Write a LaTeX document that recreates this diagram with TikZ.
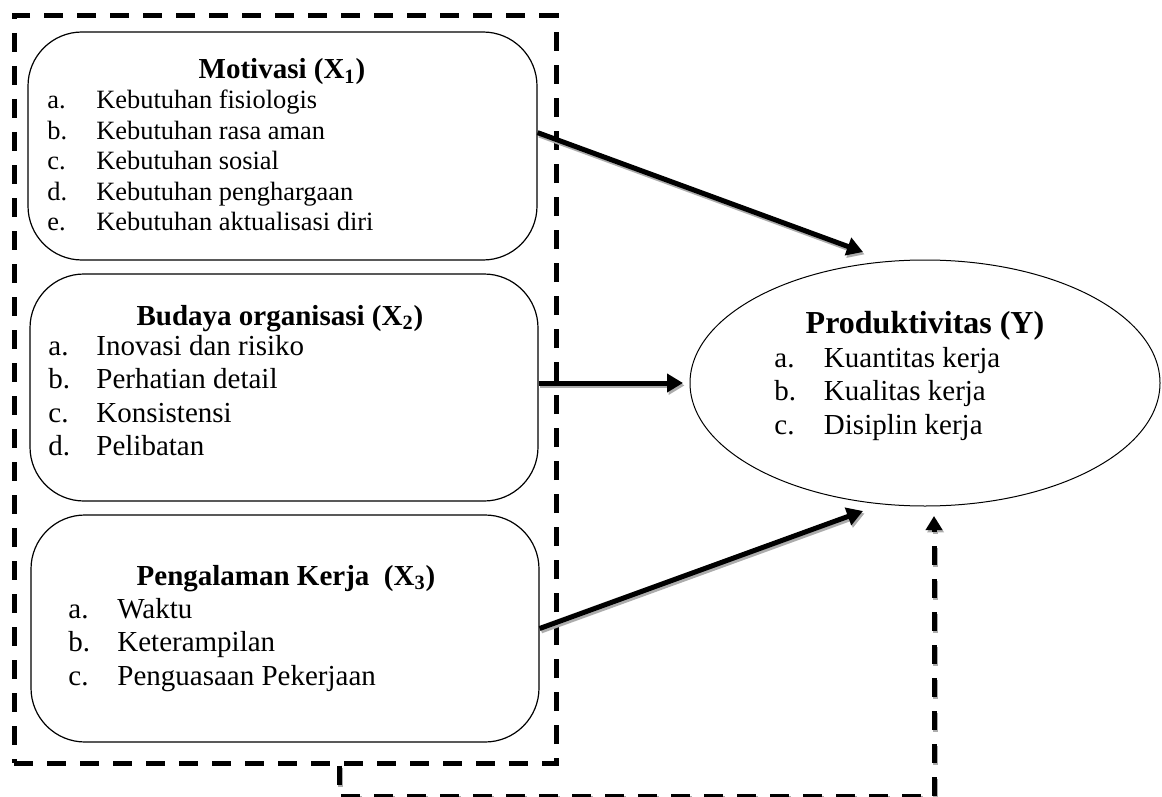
\documentclass[tikz,border=0pt]{standalone}
\usepackage{fontspec}
\setmainfont{Liberation Serif}
\usetikzlibrary{arrows.meta,shapes.geometric}

\begin{document}
\begin{tikzpicture}[x=0.5pt,y=-0.5pt,
    kotak/.style={draw,rounded corners=27pt,line width=0.6pt,inner sep=0pt,minimum width=254pt,minimum height=114pt},
    judul/.style={font=\bfseries\fontsize{14.5}{16.7}\selectfont,anchor=base,inner sep=0pt},
    daftar/.style={anchor=base west,inner sep=0pt,font=\fontsize{14.5}{16.75}\selectfont},
    putus/.style={line width=2.5pt,dash pattern=on 9.5pt off 7pt},
    bayang/.style={preaction={draw=gray!65,line width=2.5pt,transform canvas={xshift=0.8pt,yshift=-1.2pt},#1}},
    panah/.style={line width=2.5pt,-{Triangle[length=8pt,width=9pt]},bayang={-{Triangle[length=8pt,width=9pt]}}}]
  \useasboundingbox (0,0) rectangle (1162,797);

  % kotak putus-putus
  \node[putus,draw,minimum width=271pt,minimum height=373.5pt,inner sep=0pt] (grup) at (285,389.5) {};

  \node[kotak,minimum width=254.5pt] (mot) at (282.5,146) {};
  \node[kotak,minimum height=113.5pt] (org) at (284,387.5) {};
  \node[kotak,minimum height=113.5pt] (exp) at (285,628.5) {};

  \node[judul] (motJ) at (282,79) {Motivasi (X\textsubscript{1})};
  \node[daftar,font=\fontsize{13.2}{15.25}\selectfont] (motD) at (47,109) {%
    \begin{tabular}[t]{@{}p{24.5pt}@{}l@{}}
      a. & Kebutuhan fisiologis\\
      b. & Kebutuhan rasa aman\\
      c. & Kebutuhan sosial\\
      d. & Kebutuhan penghargaan\\
      e. & Kebutuhan aktualisasi diri
    \end{tabular}};

  \node[judul] (orgJ) at (280,325) {Budaya organisasi (X\textsubscript{2})};
  \node[daftar] (orgD) at (48,355) {%
    \begin{tabular}[t]{@{}p{24pt}@{}l@{}}
      a. & Inovasi dan risiko\\
      b. & Perhatian detail\\
      c. & Konsistensi\\
      d. & Pelibatan
    \end{tabular}};

  \node[judul] (expJ) at (286,585) {Pengalaman Kerja~ (X\textsubscript{3})};
  \node[daftar] (expD) at (68,618) {%
    \begin{tabular}[t]{@{}p{24.5pt}@{}l@{}}
      a. & Waktu\\
      b. & Keterampilan\\
      c. & Penguasaan Pekerjaan
    \end{tabular}};

  % variabel Y
  \node[ellipse,draw,line width=0.5pt,minimum width=235pt,minimum height=123pt,inner sep=0pt] (prod) at (925,383) {};
  \node[judul,font=\bfseries\fontsize{16}{18}\selectfont] (prodJ) at (925,333) {Produktivitas (Y)};
  \node[daftar] (prodD) at (774,367) {%
    \begin{tabular}[t]{@{}p{24.8pt}@{}l@{}}
      a. & Kuantitas kerja\\
      b. & Kualitas kerja\\
      c. & Disiplin kerja
    \end{tabular}};

  % panah
  \coordinate (u1) at (863,252);
  \coordinate (u2) at (683,383);
  \coordinate (u3) at (863,511);
  \coordinate (u4) at (934,516);
  \draw[panah] (mot.3) -- (u1);
  \draw[panah] (org.east |- u2) -- (u2);
  \draw[panah] (exp.east) -- (u3);
  \draw[putus,-{Triangle[length=7pt,width=8pt]},
    bayang={dash pattern=on 9.5pt off 7pt,-{Triangle[length=7pt,width=8pt]}}]
    (grup.south) ++(54,0) -- ++(0,31) -| (u4);
\end{tikzpicture}
\end{document}
